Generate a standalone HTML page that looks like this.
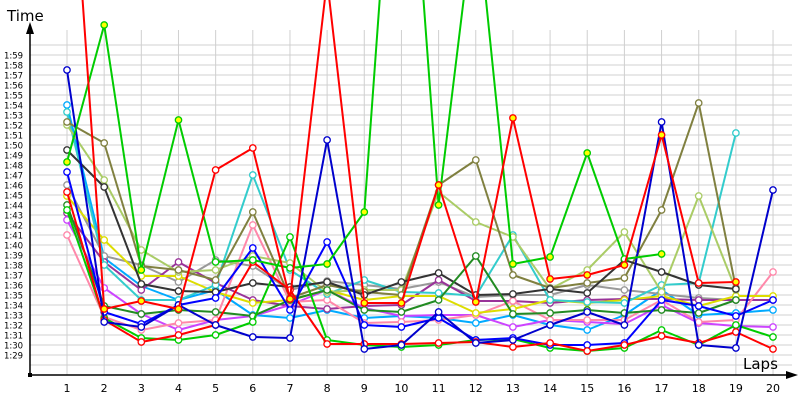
<!DOCTYPE html>
<html><head><meta charset="utf-8"><style>
html,body{margin:0;padding:0;background:#fff;width:800px;height:400px;overflow:hidden}
svg{display:block;font-family:"DejaVu Sans","Liberation Sans",sans-serif}
</style></head><body>
<svg id="c" width="800" height="400" xmlns="http://www.w3.org/2000/svg"></svg>
<script>
const s=document.getElementById('c');
let h='';
const X=i=>67+(i-1)*37.16;
for(let k=0;k<=32;k++){const y=45+k*10;h+=`<line x1="30" y1="${y}" x2="792" y2="${y}" stroke="#d0d0d0" stroke-width="1"/>`;}
for(let i=1;i<=20;i++){h+=`<line x1="${X(i)}" y1="30" x2="${X(i)}" y2="375" stroke="#d0d0d0" stroke-width="1"/>`;
h+=`<text x="${X(i)}" y="392" font-size="11" text-anchor="middle" fill="#000">${i}</text>`;}
for(let v=119;v>=89;v--){const y=55+(119-v)*10;const m=Math.floor(v/60),sec=v%60;
h+=`<text x="4" y="${y+3.5}" font-size="8.5" fill="#000">${m}:${String(sec).padStart(2,'0')}</text>`;}
const ser=[
['#00aaff',[105,258,286,300,290,315,318,310,318,316,318,323,315,325,330,315,290,315,313,310]],
['#999999',[185,256,265,282,260,266,290,281,285,289,282,297,295,295,285,290,294,298,300,null]],
['#993399',[213,262,290,262,283,300,306,309,306,305,280,301,301,303,300,299,299,300,300,300]],
['#cc44ff',[220,288,314,330,320,316,305,290,308,316,315,315,327,320,322,324,305,323,326,327]],
['#ff88aa',[235,317,330,323,320,225,302,300,323,322,320,315,301,320,320,320,300,322,320,272]],
['#dddd00',[196,240,276,276,292,303,300,290,300,296,296,313,309,300,303,300,296,306,296,296]],
['#33cccc',[112,265,300,300,285,175,270,294,280,292,293,296,235,300,302,303,285,283,133,null]],
['#aacc66',[125,180,250,272,270,256,263,292,290,290,192,222,237,289,270,232,292,196,290,null]],
['#808040',[122,143,266,270,280,212,298,285,292,295,185,160,275,288,283,278,210,103,288,null]],
['#333333',[150,187,284,291,292,283,287,282,295,282,273,295,294,289,293,260,272,285,289,null]],
['#228b22',[205,306,314,310,312,316,300,290,310,312,300,256,314,313,310,313,310,313,300,null]],
['#00cc00',[210,318,338,340,335,322,237,340,345,347,345,340,339,348,351,348,330,345,325,337]],
['#0000ff',[172,312,324,305,298,248,310,242,325,327,318,340,338,345,345,343,300,306,316,300]],
['#ff0000',[192,320,342,335,325,262,290,344,344,344,343,342,347,343,351,345,336,343,332,349]],
['#0000cc',[70,322,327,305,325,337,338,140,349,345,312,343,340,325,312,325,122,345,348,190]],
['#00cc00',[162,25,270,120,262,260,268,264,212,-300,205,-100,264,257,153,259,254,null,null,null],[1,2,3,4,8,9,11,13,14,15,17]],
['#ff0000',[-223,309,301,309,170,148,299,-20,303,303,185,302,118,279,275,265,135,283,282,null],[2,3,4,7,9,10,11,12,13,14,15,16,17,19]],
];
h+='<defs><clipPath id="cp"><rect x="30" y="0" width="770" height="375"/></clipPath></defs><g clip-path="url(#cp)">';
for(const [c,d,yel] of ser){let p=[];d.forEach((y,i)=>{if(y!==null)p.push(X(i+1).toFixed(1)+','+y)});
h+=`<polyline points="${p.join(' ')}" fill="none" stroke="${c}" stroke-width="2" stroke-linejoin="round"/>`;
d.forEach((y,i)=>{if(y!==null&&y>0){const f=yel&&yel.includes(i+1)?'#ffff00':'#fff';h+=`<circle cx="${X(i+1).toFixed(1)}" cy="${y}" r="3.2" fill="${f}" stroke="${c}" stroke-width="1.3"/>`;}});}
h+='</g>';
h+=`<line x1="30" y1="375" x2="30" y2="30" stroke="#000" stroke-width="1.5"/><polygon points="30,22 26,34 34,34" fill="#000"/>`;
h+=`<line x1="30" y1="375" x2="790" y2="375" stroke="#000" stroke-width="1.5"/><polygon points="798,375 786,371 786,379" fill="#000"/>`;
h+=`<rect x="28" y="373" width="4" height="4" fill="#000"/>`;
h+=`<text x="7" y="21" font-size="15" fill="#000">Time</text><text x="743" y="369" font-size="15" fill="#000">Laps</text>`;
s.innerHTML=h;
</script>
</body></html>
